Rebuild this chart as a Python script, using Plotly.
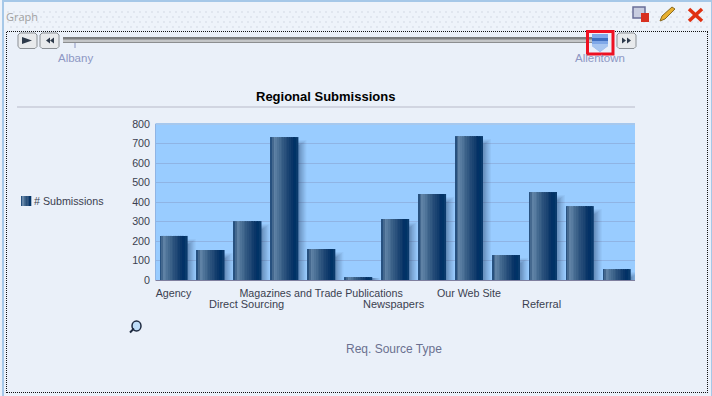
import plotly.graph_objects as go

W, H = 712, 396
categories = ["Agency", "Source 2", "Direct Sourcing", "Source 4", "Magazines and Trade Publications",
              "Source 6", "Newspapers", "Source 8", "Our Web Site", "Source 10", "Referral", "Source 12", "Source 13"]
submissions = [226, 154, 302, 733, 159, 15, 313, 441, 738, 128, 451, 379, 56]
row1_categories = ["Agency", "Magazines and Trade Publications", "Our Web Site"]
row2_categories = ["Direct Sourcing", "Newspapers", "Referral"]
y_ticks = [0, 100, 200, 300, 400, 500, 600, 700, 800]
series_name = "# Submissions"
title = "Regional Submissions"
x_title = "Req. Source Type"
slider_labels = ["Albany", "Allentown"]

BG = "#EAF0F9"
PLOT = "#99CCFF"
FONT = "Liberation Sans"
LABEL = "#3A3F50"
stripes = ["#27517F", "#45698F", "#5F82A5", "#587CA0", "#4E7398", "#446A90", "#3B6188", "#325982",
           "#2A517C", "#234A77", "#1B4472", "#133D6D", "#0A3668", "#033166", "#003366", "#0A3A6C"]

fig = go.Figure()
BW = 27.5 / 37
PX = 1 / 37          # one pixel in category units
VPX = 800 / 156      # one pixel in value units
# soft drop shadow: stacked translucent layers, offset right and down from each bar
for g, a in [(5, .05), (4, .06), (3, .07), (2, .08), (1, .09), (0, .10)]:
    fig.add_trace(go.Bar(
        x=categories,
        y=[max(v - (8 - g) * VPX, 2 * VPX) + (1 + g * .6) * VPX for v in submissions],
        base=[-(1 + g * .6) * VPX for v in submissions],
        width=BW + (g * 1.3 - 1) * PX, offset=-BW / 2 + 3 * PX,
        marker=dict(color=f"rgba(30,50,85,{a})", line_width=0),
        showlegend=False, hoverinfo="skip", cliponaxis=False))
# vertical-gradient stripes of each bar
n = len(stripes)
for i, c in enumerate(stripes):
    fig.add_trace(go.Bar(
        x=categories, y=submissions,
        width=BW / n + .004, offset=-BW / 2 + .3 * PX + i * BW / n,
        marker=dict(color=c, line_width=0),
        showlegend=False, name=series_name))

# faint dotted texture of the header band, on a hidden pixel-scaled axis pair
dot_x = [8 + 6 * i + 3 * (j % 2) for j in range(4) for i in range(117)]
dot_y = [12 + 5 * j for j in range(4) for i in range(117)]
fig.add_trace(go.Scatter(x=dot_x, y=dot_y, xaxis="x2", yaxis="y2", mode="markers",
                         marker=dict(symbol="square", size=1.6, color="#D8DEE8", line_width=0),
                         showlegend=False, hoverinfo="skip"))

fig.update_layout(
    width=W, height=H, margin=dict(l=0, r=0, t=0, b=0, autoexpand=False), autosize=False,
    paper_bgcolor=BG, plot_bgcolor="rgba(0,0,0,0)", barmode="overlay", showlegend=False,
    font=dict(family=FONT, size=11, color=LABEL),
    xaxis=dict(domain=[155 / W, 635 / W], range=[-0.5, 12.5], categoryorder="array", categoryarray=categories,
               tickvals=row1_categories, ticktext=row1_categories, tickangle=0, ticks="",
               showline=False, showgrid=False, zeroline=False, ticklabelstandoff=5,
               tickfont=dict(size=10.7, color=LABEL)),
    yaxis=dict(domain=[1 - 280 / H, 1 - 124 / H], range=[0, 800], tickvals=y_ticks,
               ticks="", showline=False, gridcolor="#8FB4E4", gridwidth=1, zeroline=False,
               tickfont=dict(size=10.7, color=LABEL), ticklabelstandoff=4),
    xaxis2=dict(domain=[0, 1], range=[0, W], visible=False, anchor="y2", fixedrange=True),
    yaxis2=dict(domain=[1 - 30 / H, 1], range=[30, 0], visible=False, anchor="x2", fixedrange=True),
)

def px(x): return x / W
def py(y): return 1 - y / H
shapes, anns = [], []
def rect(x0, y0, x1, y1, fill=None, line=None, lw=1, dash=None, layer="below"):
    shapes.append(dict(type="rect", xref="paper", yref="paper", x0=px(x0), x1=px(x1), y0=py(y0), y1=py(y1),
                       fillcolor=fill or "rgba(0,0,0,0)", line=dict(color=line or "rgba(0,0,0,0)", width=lw if line else 0, dash=dash), layer=layer))
def path(pts, fill=None, line=None, lw=1, layer="above"):
    d = "M" + " L".join(f"{px(x):.5f},{py(y):.5f}" for x, y in pts) + (" Z" if fill else "")
    shapes.append(dict(type="path", xref="paper", yref="paper", path=d, fillcolor=fill or "rgba(0,0,0,0)", opacity=1,
                       line=dict(color=line or "rgba(0,0,0,0)", width=lw if line else 0), layer=layer))
def seg(x0, y0, x1, y1, color, lw=1, layer="above", dash=None):
    shapes.append(dict(type="line", xref="paper", yref="paper", x0=px(x0), x1=px(x1), y0=py(y0), y1=py(y1),
                       line=dict(color=color, width=lw, dash=dash), layer=layer))
def text(x, y, s, size=11, color=LABEL, anchor="center", bold=False, family=FONT):
    anns.append(dict(xref="paper", yref="paper", x=px(x), y=py(y), text=f"<b>{s}</b>" if bold else s, showarrow=False,
                     xanchor=anchor, yanchor="middle", font=dict(size=size, color=color, family=family)))

# panel chrome
rect(0, 0, W, 30, fill="#EEF3FA")
rect(3, 1, W, H + 3, line="#A6C8E8", lw=2)
# dotted frame: segments start on whole pixels so the 1px dots stay crisp
DOT = "1px,1px"
seg(7, 31.5, 708, 31.5, "#111111", 1, "below", DOT)
seg(7, 392.5, 708, 392.5, "#111111", 1, "below", DOT)
seg(6.5, 32, 6.5, 393, "#111111", 1, "below", DOT)
seg(707.5, 32, 707.5, 393, "#111111", 1, "below", DOT)
text(4, 16, "Graph", 11, "#A0A0A0", "left", family="Open Sans")

# plot background
rect(155.5, 124, 635, 280, fill=PLOT)

# slider
def button(x0, x1, tris):
    y0, y1 = 33, 48.5
    path([(x0 + 2, y0), (x1 - 2, y0), (x1, y0 + 2), (x1, y1 - 2), (x1 - 2, y1), (x0 + 2, y1), (x0, y1 - 2), (x0, y0 + 2)],
         fill="#E8EAEC", line="#8A8F94", lw=1, layer="below")
    for t in tris:
        path(t, fill="#2E3A4A")
button(18, 37, [[(22, 37), (32, 40.5), (22, 44)]])
button(40, 59, [[(46, 40.5), (50, 37.5), (50, 43.5)], [(50, 40.5), (54, 37.5), (54, 43.5)]])
button(617, 636, [[(622, 37.5), (626, 40.5), (622, 43.5)], [(627, 37.5), (631, 40.5), (627, 43.5)]])
rect(63, 37, 592, 43, fill="#C4C6C8")
rect(63, 37, 592, 39.5, fill="#7C7E80")
rect(63, 42, 592, 43, fill="#8C8E90")
seg(75, 43, 75, 48, "#8C95C0")
text(75, 58, slider_labels[0], 11.5, "#8D97C4")
text(600, 58, slider_labels[1], 11.5, "#8D97C4")
path([(592, 34), (608, 34), (608, 46), (600, 52), (592, 46)], fill="#7FA8E8")
path([(592, 44), (608, 44), (608, 46), (600, 52), (592, 46)], fill="#A8C6F0")
rect(592, 38, 608, 41, fill="#3F6FC0", layer="above")
rect(587.5, 31.5, 613, 54, line="#EE1122", lw=3, layer="above")

# header icons
rect(633, 7, 645, 18, fill="#C8CDE0", line="#6A6F98", lw=1.5, layer="above")
rect(641, 13, 649, 22, fill="#D83020", layer="above")
path([(660, 21), (662, 16), (672, 7), (675, 9), (665, 19)], fill="#E8B030", line="#8A6A20")
seg(689, 9, 702, 21, "#E03010", 3.5)
seg(702, 9, 689, 21, "#E03010", 3.5)

# title and rule
text(325, 97, title, 13, "#000000", bold=True)
seg(17, 107, 635, 107, "#C8CCD8", 1.5, "below")

# plot edges
seg(155.5, 124, 635, 124, "#A6C8EE", 2, "below")
seg(155.5, 124, 155.5, 280, "#8FB4E4", 1, "below")
seg(155.5, 280.5, 635, 280.5, "#7F7F9F", 1.2)

# second row of staggered category labels
for c in row2_categories:
    anns.append(dict(xref="x", yref="paper", x=c, y=py(304), text=c, showarrow=False, xanchor="center", yanchor="middle",
                     xshift=-1, font=dict(size=11, color=LABEL, family=FONT)))

# legend
for i, c in enumerate(stripes[::2]):
    rect(21 + i * 10 / 8, 196, 21 + (i + 1) * 10 / 8 + .3, 206, fill=c, layer="above")
text(31.5, 201, series_name, 10.7, LABEL, "left")

# x axis title and magnifier
text(394, 349, x_title, 12, "#6A7090")
shapes.append(dict(type="circle", xref="paper", yref="paper", x0=px(132), x1=px(141), y0=py(321), y1=py(331),
                   fillcolor="#BFDDF8", line=dict(color="#1E2A40", width=1.5)))
seg(130, 332.5, 134, 328.5, "#1E2A40", 2)

fig.update_layout(shapes=shapes, annotations=anns)
fig.write_html("out.html", config={"displayModeBar": False},
               post_script="document.body.style.margin='0';document.body.style.overflow='hidden';")
